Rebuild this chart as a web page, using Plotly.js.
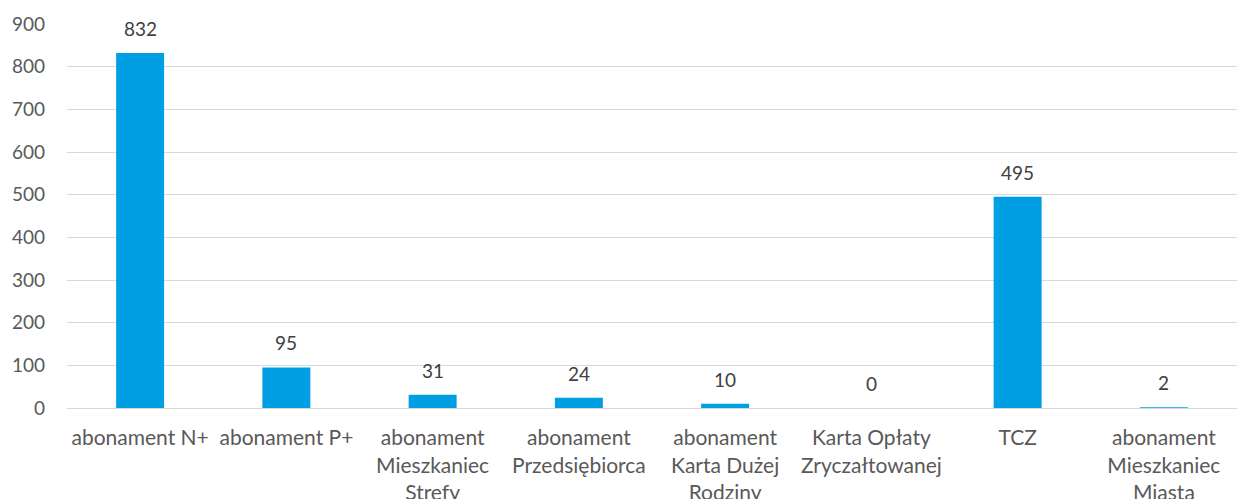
<!DOCTYPE html>
<html><head><meta charset="utf-8">
<script src="https://cdn.plot.ly/plotly-3.0.1.min.js"></script>
<style>html,body{margin:0;padding:0;background:#fff}#chart{width:1237px;height:499px}</style>
</head><body><div id="chart"></div>
<script>
const categories = [
  "abonament N+",
  "abonament P+",
  "abonament<br>Mieszkaniec<br>Strefy",
  "abonament<br>Przedsiębiorca",
  "abonament<br>Karta Dużej<br>Rodziny",
  "Karta Opłaty<br>Zryczałtowanej",
  "TCZ",
  "abonament<br>Mieszkaniec<br>Miasta"
];
const values = [832, 95, 31, 24, 10, 0, 495, 2];
const yTicks = [0, 100, 200, 300, 400, 500, 600, 700, 800, 900];

const fam = "Lato, Open Sans, Liberation Sans, sans-serif";
const tickFont = {family: fam, size: 19, color: "#595959"};
const catFont = {family: fam, size: 21, color: "#595959"};

const labels = categories.map((c, i) => ({
  x: c, y: values[i], xref: "x", yref: "y",
  text: String(values[i]), showarrow: false,
  yanchor: "bottom", yshift: 11,
  font: {family: fam, size: 19, color: "#404040"}
}));

Plotly.newPlot("chart", [{
  type: "bar",
  x: categories,
  y: values,
  marker: {color: "#009FE3"},
  hoverinfo: "x+y"
}], {
  width: 1237, height: 499,
  margin: {l: 67, r: 0, t: 24, b: 91},
  paper_bgcolor: "#fff", plot_bgcolor: "#fff",
  bargap: 0.672,
  showlegend: false,
  font: tickFont,
  annotations: labels,
  xaxis: {
    type: "category",
    showgrid: false,
    showline: true, linecolor: "#D9D9D9", linewidth: 1,
    ticks: "", ticklabelstandoff: 11,
    tickfont: catFont, automargin: false
  },
  yaxis: {
    range: [0, 900],
    tickvals: yTicks,
    showgrid: true, gridcolor: "#D9D9D9", gridwidth: 1,
    zeroline: false, showline: false,
    ticks: "", ticklabelstandoff: 21,
    tickfont: tickFont, automargin: false
  }
}, {displayModeBar: false, staticPlot: true});
</script>
</body></html>
